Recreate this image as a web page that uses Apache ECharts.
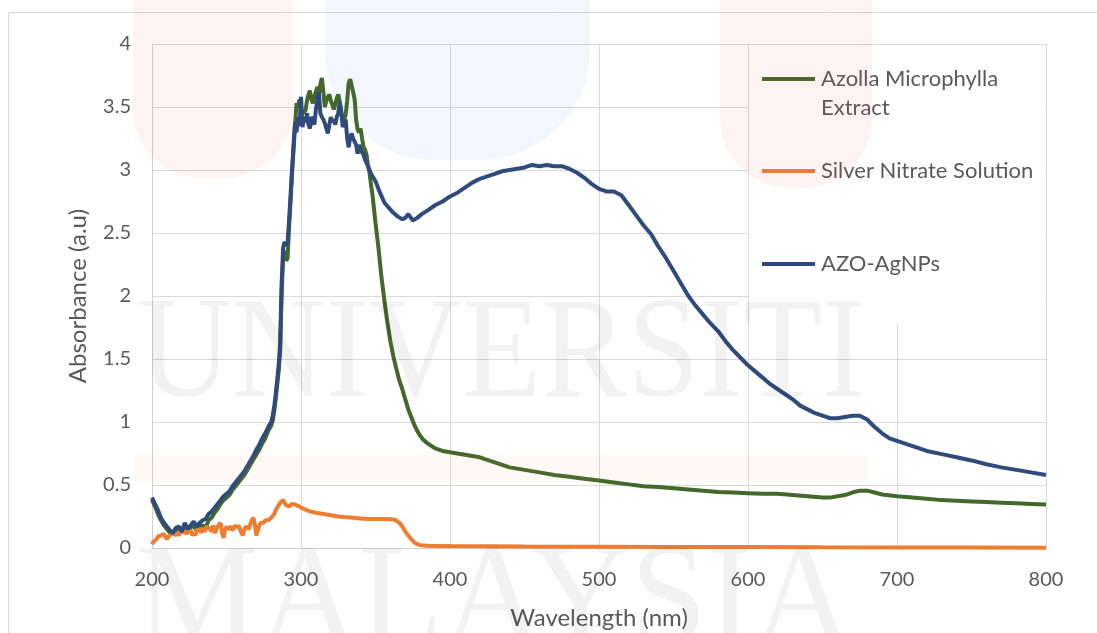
<!DOCTYPE html>
<html><head><meta charset="utf-8">
<script src="https://cdn.jsdelivr.net/npm/echarts@6/dist/echarts.min.js"></script>
<style>html,body{margin:0;padding:0;background:#fff}#c{width:1097px;height:633px}</style>
</head><body><div id="c"></div>
<script>
// ---- data ----
const seriesNames = ['Azolla Microphylla Extract', 'Silver Nitrate Solution', 'AZO-AgNPs'];
const xTickValues = [200, 300, 400, 500, 600, 700, 800];
const yTickValues = [0, 0.5, 1, 1.5, 2, 2.5, 3, 3.5, 4];

const azollaWl = [
 200,202,204,206,208,210,212,214,216,218,
 220,222,224,226,228,230,232,234,236,238,
 240,242,244,246,248,250,252,254,256,258,
 260,262,264,266,268,270,272,274,276,278,
 280,281,282,283,284,285,286,287,288,289,
 290,291,292,293,294,295,296,297,298,299,
 300,301,302,303,304,305,306,307,308,309,
 310,311,312,313,314,315,316,317,318,319,
 320,321,322,323,324,325,326,327,328,329,
 330,331,332,333,334,335,336,337,338,339,
 340,341,342,343,344,345,346,347,348,350,
 352,354,356,358,360,362,364,366,368,370,
 372,374,376,378,380,382,385,390,395,400,
 405,410,415,420,425,430,435,440,445,450,
 455,460,470,480,490,500,510,520,530,540,
 550,560,570,580,590,600,610,620,630,640,
 650,655,660,665,670,675,680,685,690,700,
 710,720,730,740,750,760,770,780,790,800];
const azollaAbs = [
 0.38,0.33,0.27,0.22,0.18,0.15,0.12,0.11,0.14,0.16,
 0.12,0.17,0.13,0.16,0.18,0.14,0.17,0.18,0.16,0.22,
 0.24,0.28,0.31,0.35,0.38,0.40,0.42,0.46,0.49,0.52,
 0.55,0.58,0.62,0.66,0.70,0.74,0.78,0.83,0.87,0.93,
 0.97,1.01,1.08,1.18,1.29,1.40,1.56,2.02,2.30,2.36,
 2.28,2.30,2.55,2.75,2.98,3.16,3.35,3.53,3.50,3.56,
 3.48,3.45,3.44,3.47,3.55,3.60,3.63,3.56,3.53,3.58,
 3.62,3.66,3.60,3.68,3.73,3.62,3.50,3.55,3.58,3.60,
 3.55,3.52,3.48,3.52,3.57,3.60,3.54,3.45,3.42,3.40,
 3.44,3.55,3.69,3.72,3.73,3.62,3.56,3.40,3.32,3.30,
 3.33,3.25,3.18,3.16,3.12,3.03,2.98,2.88,2.80,2.58,
 2.38,2.15,1.96,1.79,1.64,1.52,1.42,1.33,1.26,1.18,
 1.10,1.04,0.98,0.93,0.89,0.86,0.83,0.79,0.77,0.76,
 0.75,0.74,0.73,0.72,0.70,0.68,0.66,0.64,0.63,0.62,
 0.61,0.60,0.58,0.565,0.55,0.535,0.52,0.505,0.49,0.485,
 0.475,0.465,0.455,0.445,0.44,0.435,0.43,0.43,0.42,0.41,
 0.40,0.40,0.41,0.42,0.44,0.455,0.455,0.44,0.425,0.41,
 0.40,0.39,0.38,0.375,0.37,0.365,0.36,0.355,0.35,0.345];

const silverWl = [
 200,201,202,203,204,205,206,207,208,209,
 210,211,212,213,214,215,216,217,218,219,
 220,221,222,223,224,225,226,227,228,229,
 230,231,232,233,234,235,236,237,238,239,
 240,241,242,243,244,245,246,247,248,249,
 250,251,252,253,254,255,256,257,258,259,
 260,261,262,263,264,265,266,267,268,269,
 270,271,272,273,274,275,276,277,278,279,
 280,281,282,283,284,285,286,287,288,289,
 290,291,292,293,294,295,296,298,300,303,
 306,310,315,320,325,330,335,340,345,350,
 355,360,363,366,368,370,372,374,376,378,
 380,385,390,400,450,500,550,600,650,700,
 750,800];
const silverAbs = [
 0.03,0.05,0.04,0.07,0.09,0.08,0.10,0.09,0.11,0.10,
 0.07,0.09,0.08,0.11,0.13,0.12,0.10,0.12,0.10,0.13,
 0.15,0.12,0.14,0.11,0.13,0.12,0.14,0.10,0.12,0.10,
 0.14,0.13,0.15,0.12,0.16,0.13,0.12,0.17,0.18,0.15,
 0.13,0.18,0.12,0.14,0.17,0.16,0.20,0.12,0.08,0.14,
 0.17,0.15,0.14,0.17,0.14,0.13,0.18,0.16,0.18,0.17,
 0.12,0.10,0.15,0.17,0.17,0.15,0.19,0.22,0.24,0.19,
 0.10,0.09,0.18,0.20,0.19,0.20,0.22,0.21,0.22,0.23,
 0.24,0.25,0.27,0.30,0.32,0.33,0.36,0.37,0.38,0.37,
 0.34,0.33,0.33,0.34,0.35,0.35,0.345,0.335,0.32,0.305,
 0.29,0.28,0.27,0.26,0.25,0.245,0.24,0.235,0.23,0.23,
 0.23,0.228,0.225,0.20,0.17,0.13,0.10,0.07,0.045,0.03,
 0.022,0.018,0.016,0.015,0.012,0.010,0.008,0.007,0.005,0.004,
 0.003,0.002];

const agnpWl = [
 200,202,204,206,208,210,212,214,216,218,
 220,222,224,226,228,230,232,234,236,238,
 240,242,244,246,248,250,252,254,256,258,
 260,262,264,266,268,270,272,274,276,278,
 280,281,282,283,284,285,286,287,288,289,
 290,291,292,293,294,295,296,297,298,299,
 300,301,302,303,304,305,306,307,308,309,
 310,311,312,313,314,315,316,317,318,319,
 320,321,322,323,324,325,326,327,328,329,
 330,331,332,333,334,335,336,337,338,339,
 340,342,343,345,347,350,353,356,359,362,
 365,368,370,372,373,375,378,381,385,390,
 395,400,405,410,415,420,425,430,435,440,
 445,450,455,460,465,470,475,480,485,490,
 495,500,505,510,515,520,525,530,535,540,
 545,550,555,560,565,570,575,580,585,590,
 595,600,605,610,615,620,625,630,635,640,
 645,650,655,660,665,670,675,680,685,690,
 695,700,710,720,730,740,750,760,770,780,
 790,800];
const agnpAbs = [
 0.40,0.35,0.30,0.24,0.20,0.17,0.14,0.12,0.16,0.17,
 0.13,0.20,0.15,0.18,0.21,0.17,0.20,0.22,0.23,0.27,
 0.29,0.32,0.35,0.38,0.41,0.43,0.45,0.49,0.52,0.55,
 0.58,0.61,0.65,0.69,0.73,0.78,0.82,0.87,0.91,0.96,
 1.00,1.05,1.12,1.22,1.33,1.45,1.62,2.10,2.38,2.43,
 2.40,2.42,2.60,2.80,3.00,3.20,3.38,3.30,3.42,3.35,
 3.58,3.34,3.42,3.38,3.45,3.36,3.33,3.42,3.40,3.36,
 3.48,3.55,3.62,3.45,3.42,3.40,3.37,3.33,3.29,3.36,
 3.42,3.38,3.40,3.36,3.42,3.45,3.54,3.47,3.34,3.38,
 3.40,3.25,3.18,3.26,3.29,3.25,3.24,3.20,3.13,3.20,
 3.16,3.12,3.08,3.03,2.97,2.91,2.82,2.74,2.70,2.66,
 2.63,2.61,2.62,2.65,2.64,2.60,2.62,2.65,2.68,2.72,
 2.75,2.79,2.82,2.86,2.90,2.93,2.95,2.97,2.99,3.00,
 3.01,3.02,3.04,3.03,3.04,3.03,3.03,3.01,2.98,2.94,
 2.89,2.85,2.83,2.83,2.80,2.72,2.64,2.56,2.49,2.39,
 2.30,2.20,2.10,2.00,1.92,1.85,1.78,1.72,1.64,1.57,
 1.51,1.45,1.40,1.35,1.30,1.26,1.22,1.18,1.13,1.10,
 1.07,1.05,1.03,1.03,1.04,1.05,1.05,1.02,0.96,0.91,
 0.87,0.85,0.81,0.77,0.745,0.72,0.695,0.665,0.64,0.62,
 0.60,0.58];

// ---- chart ----
const pairs = (xs, ys) => xs.map((x, i) => [x, ys[i]]);
const FONT = 'Lato, "Open Sans", sans-serif';
const TXT = '#595959';
const colors = ['#43682b', '#ed7d31', '#2f4b7c'];
const LW = 4;

const chart = echarts.init(document.getElementById('c'), null, {renderer: 'canvas'});
const legendBase = (name, top, fmt) => ({
  data: [name], top: top, left: 762, padding: 0, itemWidth: 53, itemHeight: 4,
  icon: 'rect', selectedMode: false, formatter: fmt || '{name}',
  textStyle: {fontFamily: FONT, fontSize: 22, color: TXT, lineHeight: 26, padding: [0, 0, 0, 1]}
});

chart.setOption({
  animation: false,
  color: colors,
  grid: {left: 152, right: 51, top: 44, bottom: 85, outerBoundsMode: 'none', containLabel: false},
  xAxis: {
    type: 'value', min: xTickValues[0], max: xTickValues[xTickValues.length - 1], interval: 100,
    name: 'Wavelength (nm)', nameLocation: 'middle', nameGap: 58,
    nameTextStyle: {fontFamily: FONT, fontSize: 24, color: TXT},
    axisLine: {show: true, lineStyle: {color: '#cfcfcf', width: 1}},
    axisTick: {show: false},
    axisLabel: {fontFamily: FONT, fontSize: 20, color: TXT, margin: 22},
    splitLine: {show: true, lineStyle: {color: '#d9d9d9', width: 1}}
  },
  yAxis: {
    type: 'value', min: yTickValues[0], max: yTickValues[yTickValues.length - 1], interval: 0.5,
    name: 'Absorbance (a.u)', nameLocation: 'middle', nameGap: 62,
    nameTextStyle: {fontFamily: FONT, fontSize: 24, color: TXT},
    axisLine: {show: true, lineStyle: {color: '#cfcfcf', width: 1}},
    axisTick: {show: false},
    axisLabel: {fontFamily: FONT, fontSize: 20, color: TXT, margin: 21},
    splitLine: {show: true, lineStyle: {color: '#d9d9d9', width: 1}}
  },
  legend: [
    legendBase(seriesNames[0], 66, () => 'Azolla Microphylla'),
    legendBase(seriesNames[1], 158),
    legendBase(seriesNames[2], 251)
  ],
  graphic: [
    {type: 'rect', silent: true, z: -5, shape: {x: 8.5, y: 12.5, width: 1100, height: 640},
      style: {fill: 'none', stroke: '#d9d9d9', lineWidth: 1}},
    {type: 'rect', silent: true, z: 1, shape: {x: 749, y: 45, width: 296, height: 280},
      style: {fill: '#ffffff'}},
    {type: 'text', silent: true, z: 5, x: 821, y: 108,
      style: {text: 'Extract', font: '22px ' + FONT, fill: TXT, verticalAlign: 'middle'}},
    // faint watermark
    {type: 'rect', silent: true, z: 100, shape: {x: 133, y: -40, width: 160, height: 218, r: [0, 0, 70, 70]},
      style: {fill: 'rgba(235,70,70,0.07)'}},
    {type: 'rect', silent: true, z: 100, shape: {x: 325, y: -60, width: 265, height: 220, r: [0, 0, 110, 110]},
      style: {fill: 'rgba(70,120,180,0.065)'}},
    {type: 'rect', silent: true, z: 100, shape: {x: 720, y: -40, width: 152, height: 228, r: [0, 0, 70, 70]},
      style: {fill: 'rgba(235,70,70,0.07)'}},
    {type: 'rect', silent: true, z: 100, shape: {x: 133, y: 455, width: 735, height: 26},
      style: {fill: 'rgba(245,150,60,0.055)'}},
    {type: 'text', silent: true, z: 100, x: 138, y: 286, scaleX: 0.9,
      style: {text: 'UNIVERSITI', font: '144px "Liberation Serif", serif', fill: 'rgba(0,0,0,0.05)', verticalAlign: 'top'}},
    {type: 'text', silent: true, z: 100, x: 136, y: 533, scaleX: 0.96,
      style: {text: 'MALAYSIA', font: '144px "Liberation Serif", serif', fill: 'rgba(0,0,0,0.05)', verticalAlign: 'top'}}
  ],
  series: [
    {name: seriesNames[0], type: 'line', data: pairs(azollaWl, azollaAbs), symbol: 'none',
      lineStyle: {width: LW, color: colors[0]}, itemStyle: {color: colors[0]}, z: 2},
    {name: seriesNames[1], type: 'line', data: pairs(silverWl, silverAbs), symbol: 'none',
      lineStyle: {width: LW, color: colors[1]}, itemStyle: {color: colors[1]}, z: 2},
    {name: seriesNames[2], type: 'line', data: pairs(agnpWl, agnpAbs), symbol: 'none',
      lineStyle: {width: LW, color: colors[2]}, itemStyle: {color: colors[2]}, z: 2}
  ]
});
</script>
</body></html>
